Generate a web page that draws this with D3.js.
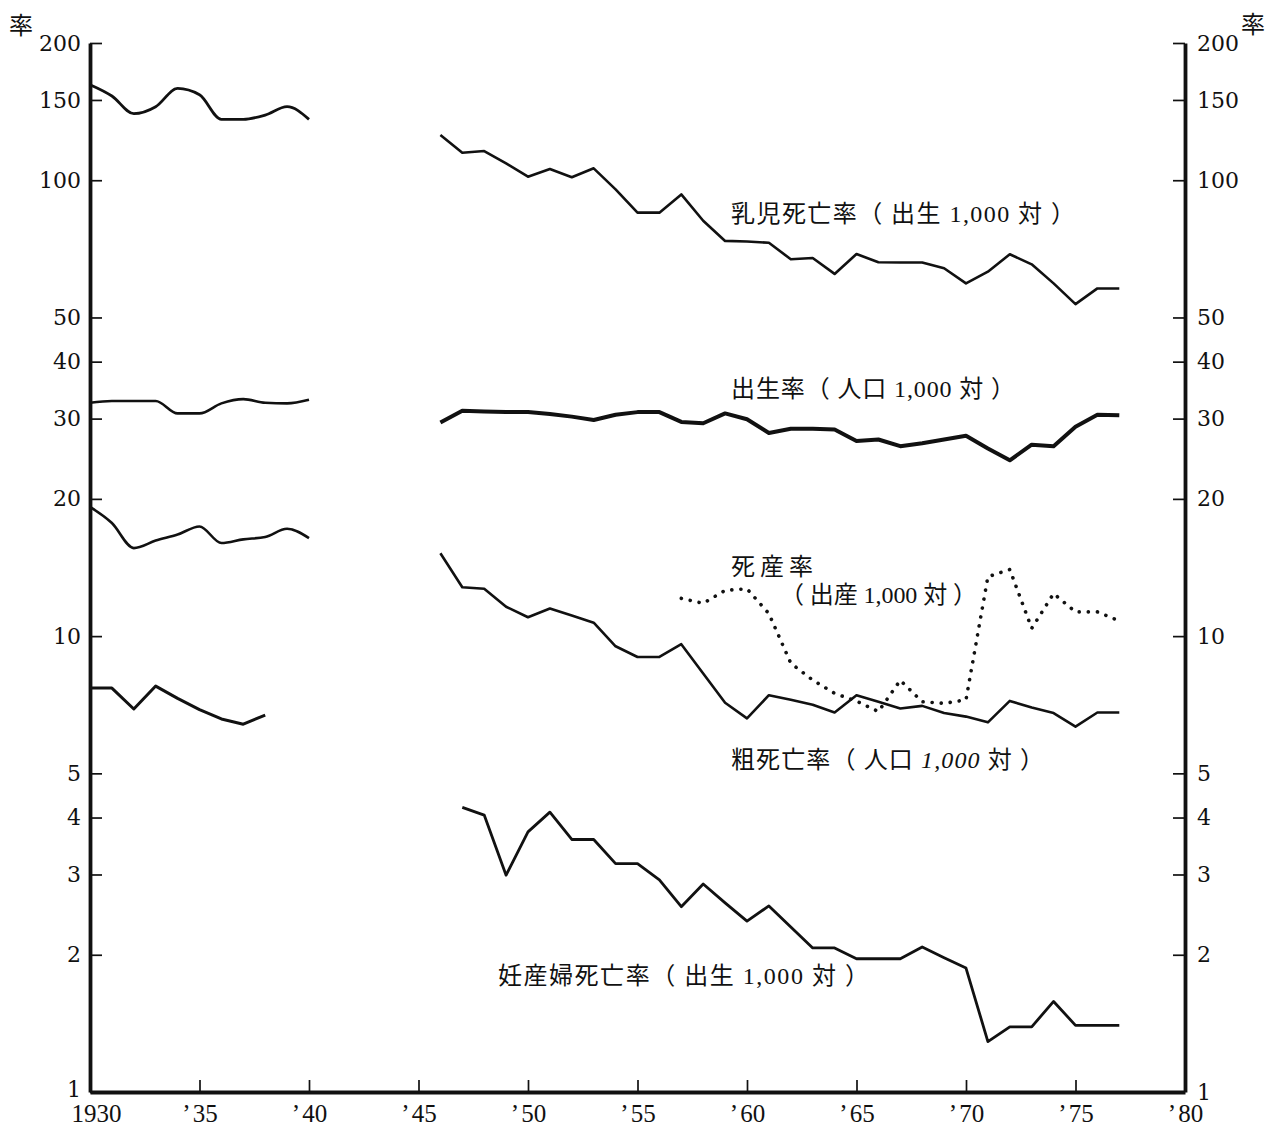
<!DOCTYPE html>
<html>
<head>
<meta charset="utf-8">
<script src="https://cdn.jsdelivr.net/npm/d3@7"></script>
<style>
  body { margin: 0; background: #fff; }
  .tick text { fill: #111; }
  .lab { font-family: "Liberation Serif", "Noto Sans CJK JP", serif; font-size: 24px; fill: #111; }
</style>
</head>
<body>
<script>
// pre-war years and series
var yearsPre = [1930, 1931, 1932, 1933, 1934, 1935, 1936, 1937, 1938, 1939, 1940];
var infantPre = [162, 153, 140, 145, 159, 154, 136, 136, 139, 145, 136];
var birthPre = [32.5, 32.8, 32.8, 32.8, 30.8, 30.8, 32.4, 33.1, 32.5, 32.4, 33.0];
var deathPre = [19.2, 17.7, 15.6, 16.2, 16.7, 17.4, 16.0, 16.3, 16.5, 17.2, 16.4];
var yearsPreLow = [1930, 1931, 1932, 1933, 1934, 1935, 1936, 1937, 1938];
var lowPre = [7.69, 7.69, 6.92, 7.77, 7.30, 6.90, 6.58, 6.41, 6.71];

// post-war years and series
var yearsPost = d3.range(1946, 1978);
var infantPost = [125.7, 114.9, 115.9, 108.9, 101.8, 105.8, 101.5, 106.2, 95.5, 84.9, 84.9, 93.1, 81.5, 73.6, 73.4, 72.9,
                  67.1, 67.5, 62.3, 68.9, 66.1, 66.0, 66.0, 64.1, 59.4, 63.0, 68.8, 65.4, 59.4, 53.5, 57.9, 57.9];
var birthPost = [29.4, 31.2, 31.1, 31.0, 31.0, 30.7, 30.3, 29.8, 30.6, 31.0, 31.0, 29.5, 29.3, 30.8, 29.9, 27.9,
                 28.5, 28.5, 28.4, 26.8, 27.0, 26.1, 26.5, 27.0, 27.5, 25.8, 24.3, 26.3, 26.1, 28.8, 30.6, 30.5];
var deathPost = [15.2, 12.8, 12.7, 11.6, 11.0, 11.5, 11.1, 10.7, 9.5, 9.0, 9.0, 9.6, 8.28, 7.14, 6.60, 7.42,
                 7.25, 7.07, 6.80, 7.42, 7.18, 6.94, 7.03, 6.78, 6.66, 6.47, 7.21, 6.97, 6.78, 6.33, 6.80, 6.80];
var yearsMaternal = d3.range(1947, 1978);
var maternalPost = [4.21, 4.05, 2.99, 3.72, 4.11, 3.58, 3.58, 3.17, 3.17, 2.92, 2.55, 2.86, 2.60, 2.37, 2.56, 2.30,
                    2.07, 2.07, 1.96, 1.96, 1.96, 2.08, 1.97, 1.87, 1.29, 1.39, 1.39, 1.58, 1.40, 1.40, 1.40];
var yearsStill = d3.range(1957, 1978);
var stillPost = [12.1, 11.8, 12.6, 12.7, 11.2, 8.72, 8.01, 7.49, 7.2, 6.83, 8.0, 7.18, 7.12, 7.25,
                 13.5, 14.0, 10.4, 12.4, 11.3, 11.3, 10.8];

// axis ticks
var yTicks = [1, 2, 3, 4, 5, 10, 20, 30, 40, 50, 100, 150, 200];
var xTicks = [1930, 1935, 1940, 1945, 1950, 1955, 1960, 1965, 1970, 1975, 1980];

var width = 1268, height = 1131;

var svg = d3.select("body").append("svg")
    .attr("width", width)
    .attr("height", height);

var x = d3.scaleLinear().domain([1930, 1980]).range([90, 1185]);
var y = d3.scaleLog().domain([1, 200]).range([1092, 43]);

function pairs(years, vals) {
    return years.map(function (yr, i) { return {year: yr, value: vals[i]}; });
}

var straight = d3.line()
    .x(function (d) { return x(d.year); })
    .y(function (d) { return y(d.value); });

var smooth = d3.line()
    .x(function (d) { return x(d.year); })
    .y(function (d) { return y(d.value); })
    .curve(d3.curveMonotoneX);

// axes
var left = svg.append("g")
    .attr("transform", "translate(90,0)")
    .call(d3.axisLeft(y).tickValues(yTicks).tickFormat(d3.format("d"))
        .tickSizeInner(-12).tickSizeOuter(0).tickPadding(9));
var right = svg.append("g")
    .attr("transform", "translate(1185,0)")
    .call(d3.axisRight(y).tickValues(yTicks).tickFormat(d3.format("d"))
        .tickSizeInner(-12).tickSizeOuter(0).tickPadding(12));
var bottom = svg.append("g")
    .attr("transform", "translate(0,1092)")
    .call(d3.axisBottom(x).tickValues(xTicks)
        .tickFormat(function (d) { return d === 1930 ? "1930" : "\u2019\u200a" + String(d).slice(2); })
        .tickSizeInner(-12).tickSizeOuter(0).tickPadding(12));

[left, right, bottom].forEach(function (g) {
    g.select(".domain").attr("stroke", "#111").attr("stroke-width", 3.8);
    g.selectAll(".tick line").attr("stroke", "#111").attr("stroke-width", 1.7);
});
left.selectAll(".tick text").style("font-family", "'DejaVu Serif', serif").style("font-size", "22px");
right.selectAll(".tick text").style("font-family", "'DejaVu Serif', serif").style("font-size", "22px");
bottom.selectAll(".tick text").style("font-family", "'Liberation Serif', serif").style("font-size", "25px");
bottom.selectAll(".tick").filter(function (d) { return d === 1930; }).select("text").attr("x", 6);
left.selectAll(".tick").filter(function (d) { return d === 1; }).select("text").attr("dy", "0.22em");

// lines
var lines = [
    {data: pairs(yearsPre, infantPre), gen: smooth, w: 2.8},
    {data: pairs(yearsPre, birthPre), gen: smooth, w: 2.6},
    {data: pairs(yearsPre, deathPre), gen: smooth, w: 2.6},
    {data: pairs(yearsPreLow, lowPre), gen: straight, w: 3.0},
    {data: pairs(yearsPost, infantPost), gen: straight, w: 2.6},
    {data: pairs(yearsPost, birthPost), gen: straight, w: 4.0},
    {data: pairs(yearsPost, deathPost), gen: straight, w: 2.6},
    {data: pairs(yearsMaternal, maternalPost), gen: straight, w: 2.8}
];
lines.forEach(function (l) {
    svg.append("path")
        .datum(l.data)
        .attr("fill", "none")
        .attr("stroke", "#111")
        .attr("stroke-width", l.w)
        .attr("stroke-linejoin", "round")
        .attr("d", l.gen);
});

svg.append("path")
    .datum(pairs(yearsStill, stillPost))
    .attr("fill", "none")
    .attr("stroke", "#111")
    .attr("stroke-width", 3.6)
    .attr("stroke-linecap", "round")
    .attr("stroke-dasharray", "0.1 9")
    .attr("d", straight);

// labels
function label(txt, lx, ly, len) {
    var t = svg.append("text").attr("class", "lab")
        .attr("x", lx).attr("y", ly).text(txt);
    if (len) t.attr("textLength", len).attr("lengthAdjust", "spacing");
    return t;
}
label("乳児死亡率（ 出生 1,000 対 ）", 731, 222, 344);
label("出生率（ 人口 1,000 対 ）", 731, 397, 284);
label("死産率", 731, 575, 82);
label("（ 出産 1,000 対 ）", 780, 603, 197);
var cd = svg.append("text").attr("class", "lab").attr("x", 731).attr("y", 768)
    .attr("textLength", 313).attr("lengthAdjust", "spacing");
cd.append("tspan").text("粗死亡率（ 人口 ");
cd.append("tspan").style("font-style", "italic").text("1,000");
cd.append("tspan").text(" 対 ）");
label("妊産婦死亡率（ 出生 1,000 対 ）", 498, 984, 371);

label("率", 9, 34);
label("率", 1241, 33);
</script>
</body>
</html>
